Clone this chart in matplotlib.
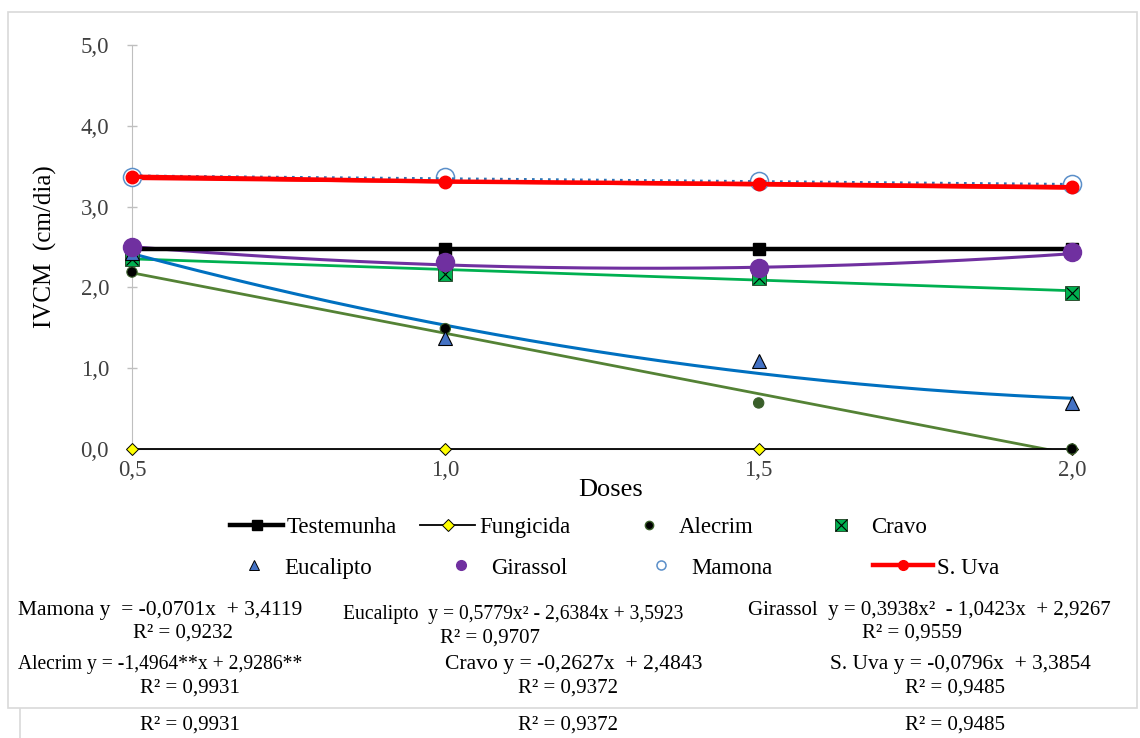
import numpy as np
import matplotlib
matplotlib.use("Agg")
import matplotlib.pyplot as plt
from matplotlib.lines import Line2D
from matplotlib.patches import Rectangle
from matplotlib.legend_handler import HandlerTuple

plt.rcParams['font.family'] = ['Liberation Serif', 'DejaVu Serif']

# ---------------- data ----------------
doses = [0.5, 1.0, 1.5, 2.0]
testemunha = [2.48, 2.48, 2.48, 2.48]
fungicida = [0.0, 0.0, 0.0, 0.0]
alecrim = [2.19, 1.49, 0.57, 0.0]
cravo = [2.35, 2.16, 2.12, 1.93]
eucalipto = [2.42, 1.37, 1.09, 0.57]
girassol = [2.50, 2.31, 2.24, 2.44]
mamona = [3.37, 3.37, 3.32, 3.28]
s_uva = [3.37, 3.31, 3.28, 3.24]

# trend-line coefficients (highest power first), as printed on the chart
coef_alecrim = [-1.4964, 2.9286]
coef_cravo = [-0.2627, 2.4843]
coef_eucalipto = [0.5779, -2.6384, 3.5923]
coef_girassol = [0.3938, -1.0423, 2.9267]
coef_mamona = [-0.0701, 3.4119]
coef_suva = [-0.0796, 3.3854]

x_ticks = [0.5, 1.0, 1.5, 2.0]
x_ticklabels = ['0,5', '1,0', '1,5', '2,0']
y_ticks = [0, 1, 2, 3, 4, 5]
y_ticklabels = ['0,0', '1,0', '2,0', '3,0', '4,0', '5,0']

eq_texts = [
    ("Mamona y  = -0,0701x  + 3,4119", 18, 610, 'left', 15.5),
    ("R² = 0,9232", 183, 633, 'center', 15),
    ("Eucalipto  y = 0,5779x² - 2,6384x + 3,5923", 343, 614, 'left', 14.1),
    ("R² = 0,9707", 490, 638, 'center', 15),
    ("Girassol  y = 0,3938x²  - 1,0423x  + 2,9267", 748, 610, 'left', 15.0),
    ("R² = 0,9559", 912, 633, 'center', 15),
    ("Alecrim y = -1,4964**x + 2,9286**", 18, 664, 'left', 14.1),
    ("R² = 0,9931", 190, 688, 'center', 15),
    ("Cravo y = -0,2627x  + 2,4843", 445, 664, 'left', 15.6),
    ("R² = 0,9372", 568, 688, 'center', 15),
    ("S. Uva y = -0,0796x  + 3,3854", 830, 664, 'left', 15.4),
    ("R² = 0,9485", 955, 688, 'center', 15),
    ("R² = 0,9931", 190, 725, 'center', 15),
    ("R² = 0,9372", 568, 725, 'center', 15),
    ("R² = 0,9485", 955, 725, 'center', 15),
]

# ---------------- figure ----------------
W, H = 1140, 738
fig = plt.figure(figsize=(W / 100, H / 100), dpi=100)

def fx(px):
    return px / W

def fy(py):
    return 1 - py / H

# frame
fig.patches.append(Rectangle((fx(8), fy(708)), fx(1137) - fx(8), fy(12) - fy(708),
                             transform=fig.transFigure, fill=False,
                             edgecolor='#d9d9d9', linewidth=1.2, zorder=0))
fig.add_artist(Line2D([fx(20), fx(20)], [fy(709), fy(738)], transform=fig.transFigure,
                      color='#d9d9d9', linewidth=1.2))

ax = fig.add_axes([fx(132), fy(449), fx(1072) - fx(132), fy(45) - fy(449)])
ax.set_xlim(0.5, 2.0)
ax.set_ylim(0, 5)
for s in ['top', 'right']:
    ax.spines[s].set_visible(False)
ax.spines['left'].set_color('#bfbfbf')
ax.spines['bottom'].set_color('#bfbfbf')

xs = np.linspace(0.5, 2.0, 200)

# trend lines
ax.plot(xs, np.polyval(coef_alecrim, xs), color='#548235', lw=2.0, zorder=3)
ax.plot(xs, np.polyval(coef_cravo, xs), color='#00B050', lw=2.0, zorder=3)
ax.plot(xs, np.polyval(coef_eucalipto, xs), color='#0070C0', lw=2.2, zorder=3)
ax.plot(xs, np.polyval(coef_girassol, xs), color='#7030A0', lw=2.2, zorder=3)
ax.plot(xs, np.polyval(coef_mamona, xs), color='#2E75B6', lw=2.4,
        linestyle=(0, (0.8, 1.6)), zorder=6)
ax.plot(xs, np.polyval(coef_suva, xs), color='#FF0000', lw=2.0, zorder=3)

# series
ax.plot(doses, testemunha, color='black', lw=3.2, marker='s', ms=8,
        markerfacecolor='black', markeredgecolor='black', zorder=4, clip_on=False)
ax.plot(doses, fungicida, color='black', lw=1.3, marker='D', ms=6.5,
        markerfacecolor='#FFFF00', markeredgecolor='black', markeredgewidth=0.7,
        zorder=4, clip_on=False)
alecrim_face = ['black', 'black', '#3A5F2A', 'black']
ax.scatter(doses, alecrim, s=55, c=alecrim_face, edgecolors='#3A5F2A',
           linewidths=0.8, zorder=5, clip_on=False)
ax.plot(doses, cravo, linestyle='none', marker='s', ms=10,
        markerfacecolor='#00B050', markeredgecolor='#1f3f1f', markeredgewidth=0.6,
        zorder=5, clip_on=False)
ax.plot(doses, cravo, linestyle='none', marker='x', ms=9, color='black',
        markeredgewidth=0.8, zorder=5, clip_on=False)
ax.plot(doses, eucalipto, linestyle='none', marker='^', ms=10,
        markerfacecolor='#4472C4', markeredgecolor='black', markeredgewidth=0.8,
        zorder=5, clip_on=False)
ax.plot(doses, girassol, linestyle='none', marker='o', ms=13,
        markerfacecolor='#7030A0', markeredgecolor='#7030A0', zorder=5, clip_on=False)
ax.plot(doses, mamona, linestyle='none', marker='o', ms=13,
        markerfacecolor='white', markeredgecolor='#5B8FC9', markeredgewidth=1.1,
        zorder=5, clip_on=False)
ax.plot(doses, s_uva, color='#FF0000', lw=3.2, marker='o', ms=9,
        markerfacecolor='#FF0000', markeredgecolor='#FF0000', zorder=7, clip_on=False)

ax.set_xticks(x_ticks)
ax.set_xticklabels(x_ticklabels)
ax.set_yticks(y_ticks)
ax.set_yticklabels(y_ticklabels)
ax.tick_params(axis='x', length=0, pad=8, labelsize=16.5, colors='#404040')
ax.tick_params(axis='y', direction='inout', length=7, width=1, color='#bfbfbf',
               pad=13, labelsize=16.5, labelcolor='#404040')

fig.text(fx(45), fy(247), 'IVCM  (cm/dia)', rotation=90, ha='center', va='center',
         fontsize=18)
fig.text(fx(611), fy(490), 'Doses', ha='center', va='center', fontsize=19)

# legend entries placed individually
h_test = Line2D([], [], color='black', lw=3.2, marker='s', ms=7)
h_fung = Line2D([], [], color='black', lw=1.3, marker='D', ms=6,
                markerfacecolor='#FFFF00', markeredgecolor='black', markeredgewidth=0.7)
h_alec = Line2D([], [], linestyle='none', marker='o', ms=6, markerfacecolor='black',
                markeredgecolor='#3A5F2A')
h_crav = (Line2D([], [], linestyle='none', marker='s', ms=9, markerfacecolor='#00B050',
                 markeredgecolor='#1f3f1f', markeredgewidth=0.6),
          Line2D([], [], linestyle='none', marker='x', ms=8, color='black',
                 markeredgewidth=0.8))
h_euca = Line2D([], [], linestyle='none', marker='^', ms=7, markerfacecolor='#4472C4',
                markeredgecolor='black', markeredgewidth=0.7)
h_gira = Line2D([], [], linestyle='none', marker='o', ms=7, markerfacecolor='#7030A0',
                markeredgecolor='#7030A0')
h_mamo = Line2D([], [], linestyle='none', marker='o', ms=6.5, markerfacecolor='white',
                markeredgecolor='#5B8FC9', markeredgewidth=1.1)
h_suva = Line2D([], [], color='#FF0000', lw=3.2, marker='o', ms=7)

LEG_FS = 16.5
entries = [
    (h_test, 'Testemunha', 230, 527, 53),
    (h_fung, 'Fungicida', 420, 527, 55),
    (h_alec, 'Alecrim', 622, 527, 53),
    (h_crav, 'Cravo', 814, 527, 53),
    (h_euca, 'Eucalipto', 227, 568, 53),
    (h_gira, 'Girassol', 434, 568, 53),
    (h_mamo, 'Mamona', 634, 568, 53),
    (h_suva, 'S. Uva', 873, 568, 60),
]
em_px = LEG_FS * 100 / 72
for h, lab, px, py, hpx in entries:
    leg = fig.legend([h], [lab], loc='center left', bbox_to_anchor=(fx(px), fy(py)),
                     frameon=False, borderpad=0, borderaxespad=0,
                     handlelength=hpx / em_px, handletextpad=4 / em_px,
                     fontsize=LEG_FS,
                     handler_map={tuple: HandlerTuple(ndivide=1, pad=0)})

for txt, px, py, ha, fs in eq_texts:
    fig.text(fx(px), fy(py), txt, ha=ha, va='center', fontsize=fs)

fig.savefig('out.png', dpi=100)
